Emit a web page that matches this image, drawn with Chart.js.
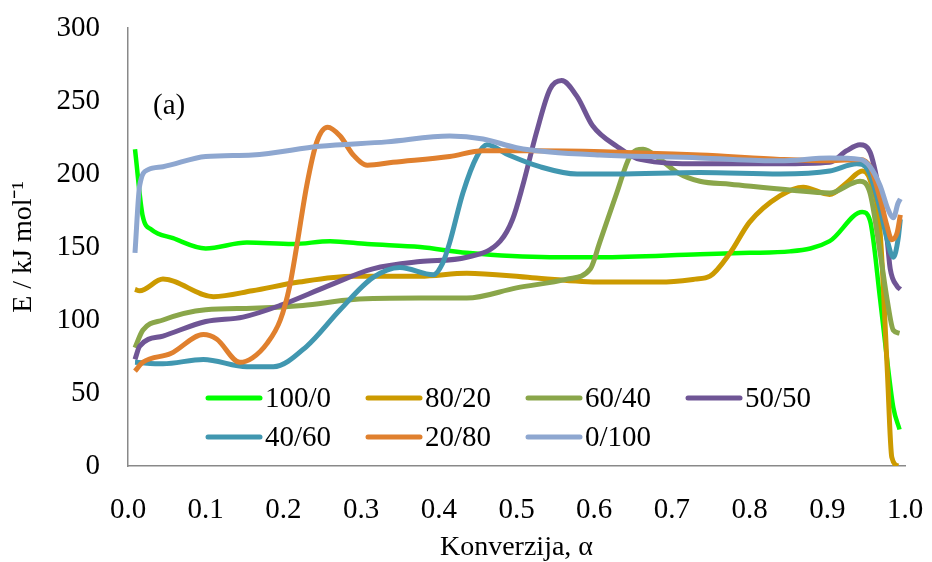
<!DOCTYPE html>
<html>
<head>
<meta charset="utf-8">
<script src="https://cdn.jsdelivr.net/npm/chart.js@4.4.0/dist/chart.umd.min.js"></script>
<style>
  html, body { margin: 0; padding: 0; background: #ffffff; }
  #wrap { width: 932px; height: 562px; }
</style>
</head>
<body>
<div id="wrap"><canvas id="myChart"></canvas></div>
<script>
// series names and conversion / activation energy values
const seriesNames = ["100/0", "80/20", "60/40", "50/50", "40/60", "20/80", "0/100"];
const seriesColors = ["#00ff00", "#cc9a00", "#8aa64a", "#6f5595", "#4197b0", "#e0802e", "#8ea7d0"];

const alpha100_0 = [0.009, 0.019, 0.03, 0.058, 0.1, 0.153, 0.212, 0.26, 0.308, 0.376, 0.436, 0.543, 0.607, 0.736, 0.8, 0.852, 0.903, 0.945, 0.955, 0.968, 0.978, 0.985, 0.993];
const energy100_0 = [217, 171, 162, 156, 149, 153, 152, 154, 152, 150, 146, 143, 143, 145, 146, 147, 154, 174, 168, 114, 68, 40, 25];

const alpha80_20 = [0.009, 0.015, 0.045, 0.11, 0.16, 0.22, 0.29, 0.376, 0.436, 0.52, 0.61, 0.685, 0.73, 0.749, 0.775, 0.8, 0.839, 0.869, 0.903, 0.925, 0.945, 0.955, 0.968, 0.977, 0.983, 0.991];
const energy80_20 = [121, 120, 128, 116, 120, 126, 130, 130, 132, 129, 126, 126, 128, 130, 146, 167, 185, 191, 186, 194, 202, 196, 160, 68, 6, 0];

const alpha60_40 = [0.009, 0.019, 0.045, 0.1, 0.16, 0.225, 0.29, 0.376, 0.436, 0.5, 0.565, 0.595, 0.607, 0.629, 0.646, 0.663, 0.685, 0.707, 0.736, 0.775, 0.852, 0.903, 0.942, 0.955, 0.968, 0.977, 0.985, 0.993];
const energy60_40 = [81, 93, 100, 107, 108, 110, 114, 115, 115, 122, 128, 135, 153, 187, 212, 217, 210, 201, 195, 193, 189, 187, 195, 187, 146, 114, 93, 91];

const alpha50_50 = [0.009, 0.015, 0.045, 0.1, 0.148, 0.196, 0.256, 0.315, 0.376, 0.436, 0.479, 0.495, 0.508, 0.526, 0.543, 0.558, 0.578, 0.598, 0.629, 0.659, 0.736, 0.839, 0.903, 0.925, 0.942, 0.955, 0.968, 0.977, 0.981, 0.99, 0.994];
const energy50_50 = [73, 82, 89, 99, 102, 110, 123, 135, 140, 143, 154, 169, 192, 229, 258, 264, 253, 233, 219, 210, 207, 207, 208, 216, 220, 215, 185, 155, 135, 123, 121];

const alpha40_60 = [0.009, 0.045, 0.097, 0.153, 0.187, 0.23, 0.273, 0.315, 0.35, 0.393, 0.405, 0.414, 0.431, 0.449, 0.462, 0.49, 0.53, 0.578, 0.629, 0.736, 0.839, 0.903, 0.938, 0.952, 0.968, 0.977, 0.985, 0.991, 0.994];
const energy40_60 = [71, 70, 73, 68, 68, 82, 107, 129, 136, 131, 139, 153, 187, 212, 220, 213, 205, 200, 200, 201, 200, 202, 207, 203, 176, 155, 143, 155, 169];

const alpha20_80 = [0.009, 0.019, 0.055, 0.097, 0.114, 0.144, 0.16, 0.179, 0.196, 0.208, 0.217, 0.23, 0.243, 0.257, 0.273, 0.29, 0.308, 0.341, 0.414, 0.457, 0.521, 0.736, 0.839, 0.903, 0.942, 0.955, 0.968, 0.977, 0.983, 0.99, 0.994];
const energy20_80 = [65, 71, 77, 90, 87, 71, 74, 84, 100, 123, 150, 192, 222, 232, 226, 213, 206, 208, 212, 216, 216, 213, 210, 209, 210, 205, 183, 164, 155, 160, 172];

const alpha0_100 = [0.009, 0.015, 0.026, 0.045, 0.1, 0.16, 0.247, 0.333, 0.414, 0.457, 0.5, 0.543, 0.607, 0.736, 0.839, 0.903, 0.942, 0.955, 0.968, 0.978, 0.985, 0.991, 0.994];
const energy0_100 = [146, 192, 203, 205, 212, 213, 219, 222, 226, 224, 218, 215, 213, 211, 209, 211, 210, 205, 192, 176, 170, 180, 183];

const xTicks = [0, 0.1, 0.2, 0.3, 0.4, 0.5, 0.6, 0.7, 0.8, 0.9, 1.0];
const yTicks = [0, 50, 100, 150, 200, 250, 300];

const alphas = [alpha100_0, alpha80_20, alpha60_40, alpha50_50, alpha40_60, alpha20_80, alpha0_100];
const energies = [energy100_0, energy80_20, energy60_40, energy50_50, energy40_60, energy20_80, energy0_100];

const serif = "'Liberation Serif', 'Times New Roman', serif";

const datasets = seriesNames.map((name, i) => ({
  label: name,
  data: alphas[i].map((a, k) => ({ x: a, y: energies[i][k] })),
  borderColor: seriesColors[i],
  backgroundColor: seriesColors[i],
  borderWidth: i === 0 ? 4.5 : 5,
  pointRadius: 0,
  cubicInterpolationMode: "monotone",
  fill: false,
  order: seriesNames.length - i,
}));

// legend inside the plot (two rows) plus the "(a)" panel label
const insideLegend = {
  id: "insideLegend",
  afterDraw(chart) {
    const ctx = chart.ctx;
    const area = chart.chartArea;
    ctx.save();
    ctx.font = "29px " + serif;
    ctx.textBaseline = "middle";
    ctx.textAlign = "left";
    ctx.fillStyle = "#000";
    ctx.fillText("(a)", area.left + 25, area.top + 78);
    chart.data.datasets.forEach((ds, i) => {
      const col = i % 4;
      const row = Math.floor(i / 4);
      const x0 = area.left + 80 + col * 160;
      const y = area.top + 370 + row * 39;
      ctx.strokeStyle = ds.borderColor;
      ctx.lineWidth = 5;
      ctx.lineCap = "round";
      ctx.beginPath();
      ctx.moveTo(x0, y);
      ctx.lineTo(x0 + 52, y);
      ctx.stroke();
      ctx.fillStyle = "#000";
      ctx.fillText(ds.label, x0 + 57, y + 1);
    });
    ctx.restore();
  },
};

new Chart(document.getElementById("myChart"), {
  type: "line",
  data: { datasets: datasets },
  options: {
    responsive: true,
    maintainAspectRatio: false,
    animation: false,
    layout: { padding: { top: 28, right: 27, bottom: 0, left: 0 } },
    plugins: {
      legend: { display: false },
      tooltip: { enabled: false },
    },
    scales: {
      x: {
        type: "linear",
        min: 0,
        max: 1,
        afterBuildTicks: (scale) => {
          scale.ticks = xTicks.map((v) => ({ value: v }));
        },
        afterFit: (scale) => {
          scale.height = 96;
          scale.paddingLeft = 0;
          scale.paddingRight = 0;
        },
        grid: { display: false, drawTicks: false },
        border: { color: "#898989", width: 1.5 },
        ticks: {
          padding: 27,
          color: "#000",
          font: { family: serif, size: 29 },
          callback: (v) => Number(v).toFixed(1),
        },
        title: {
          display: true,
          text: "Konverzija, α",
          color: "#000",
          font: { family: serif, size: 28, lineHeight: 1 },
          padding: { top: 0, bottom: 0 },
        },
      },
      y: {
        min: 0,
        max: 300,
        afterBuildTicks: (scale) => {
          scale.ticks = yTicks.map((v) => ({ value: v }));
        },
        afterFit: (scale) => {
          scale.width = 128;
          scale.paddingTop = 0;
          scale.paddingBottom = 0;
        },
        grid: { display: false, drawTicks: false },
        border: { color: "#898989", width: 1.5 },
        ticks: {
          padding: 28,
          color: "#000",
          font: { family: serif, size: 29 },
        },
        title: {
          display: true,
          text: "E / kJ mol⁻¹",
          color: "#000",
          font: { family: serif, size: 28, lineHeight: 1 },
          padding: { top: 10, bottom: 0 },
        },
      },
    },
  },
  plugins: [insideLegend],
});
</script>
</body>
</html>
